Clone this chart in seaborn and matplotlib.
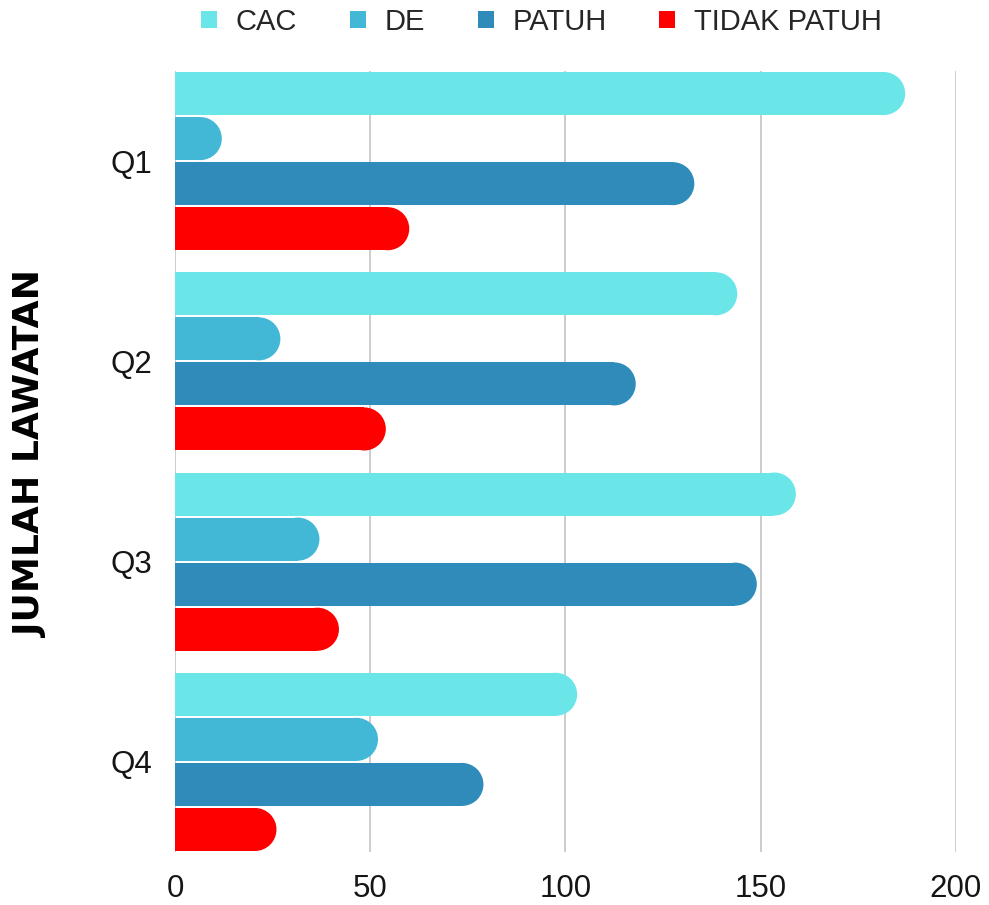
import numpy as np
import pandas as pd
import matplotlib
matplotlib.use('Agg')
import matplotlib.pyplot as plt
import seaborn as sns
from matplotlib.patches import Ellipse

# Data
quarters = ['Q1', 'Q2', 'Q3', 'Q4']
series = ['CAC', 'DE', 'PATUH', 'TIDAK PATUH']
cac = [187, 144, 159, 103]
de = [12, 27, 37, 52]
patuh = [133, 118, 149, 79]
tidak_patuh = [60, 54, 42, 26]
colors = ['#6ae6e9', '#43b8d6', '#2e8bba', '#ff0000']
x_ticks = [0, 50, 100, 150, 200]

df = pd.DataFrame({
    'Quarter': quarters * 4,
    'Status': np.repeat(series, len(quarters)),
    'Jumlah': cac + de + patuh + tidak_patuh,
})

sns.set_style('white')
plt.rcParams['font.family'] = ['Liberation Sans', 'DejaVu Sans']

fig = plt.figure(figsize=(9.89, 9.05), dpi=100)
ax = fig.add_axes([0.1769, 0.05856, 0.7897, 0.86298])

sns.barplot(data=df, y='Quarter', x='Jumlah', hue='Status', orient='h',
            palette=colors, width=0.9, gap=0.045, saturation=1,
            errorbar=None, linewidth=0, ax=ax)

ax.set_xlim(0, 200)
ax.set_ylim(3.45, -0.45)
ax.set_xticks(x_ticks)
ax.set_xlabel('')
ax.set_ylabel('')
ax.grid(axis='x', color='#c8c8c8', linewidth=1.3)
ax.grid(axis='y', visible=False)
ax.set_axisbelow(True)
sns.despine(ax=ax, left=True, bottom=True)
ax.tick_params(axis='both', length=0, labelsize=22.5, colors='#151515')
ax.tick_params(axis='y', pad=16)
ax.tick_params(axis='x', pad=16)

# rounded right end on each bar
px_x = ax.transData.transform((1, 0))[0] - ax.transData.transform((0, 0))[0]
px_y = abs(ax.transData.transform((0, 1))[1] - ax.transData.transform((0, 0))[1])
for bar in list(ax.patches):
    w = bar.get_width()
    if w <= 0:
        continue
    x0, y0, h = bar.get_x(), bar.get_y(), bar.get_height()
    rx = (abs(h) * px_y / 2) / px_x
    bar.set_width(w - rx)
    ax.add_patch(Ellipse((x0 + w - rx, y0 + h / 2), 2 * rx, abs(h),
                         facecolor=bar.get_facecolor(), linewidth=0,
                         zorder=bar.get_zorder()))

handles, labels = ax.get_legend_handles_labels()
ax.legend(handles, labels, loc='center', bbox_to_anchor=(0.5475, 0.9757),
          bbox_transform=fig.transFigure, ncol=4, frameon=False,
          fontsize=21, handlelength=0.55, handleheight=0.55,
          handletextpad=0.65, columnspacing=1.8)

fig.text(0.031, 1 - 454 / 905, 'JUMLAH LAWATAN', rotation=90,
         ha='center', va='center', fontsize=26, fontweight='heavy',
         family=['DejaVu Sans'], color='#000000')

fig.savefig('out.png', dpi=100)
